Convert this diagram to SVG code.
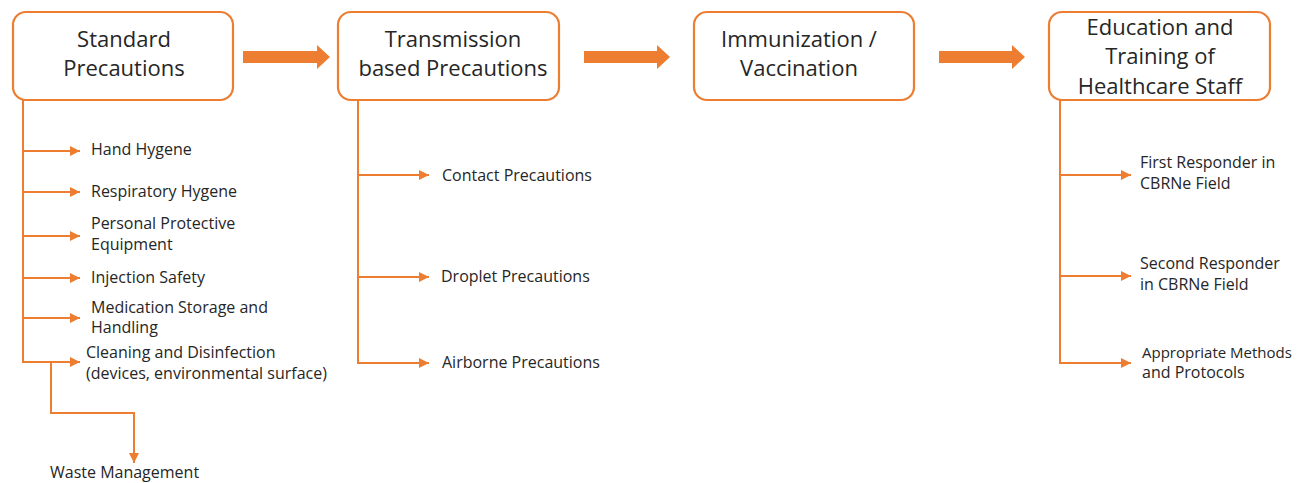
<svg xmlns="http://www.w3.org/2000/svg" width="1299" height="483" viewBox="0 0 1299 483">
  <style>
    .box { fill: #ffffff; stroke: #ED7D31; stroke-width: 2.2; }
    .head { font-family: "Open Sans", "Liberation Sans", Arial, sans-serif; font-size: 22px; fill: #262626; text-anchor: middle; }
    .item { font-family: "Open Sans", "Liberation Sans", Arial, sans-serif; font-size: 16px; fill: #262626; }
    .item.tight { font-size: 15px; }
    .link { fill: none; stroke: #ED7D31; stroke-width: 2; }
    .flow { fill: #ED7D31; }
  </style>
  <defs>
    <marker id="tip" viewBox="0 0 10 10" refX="10" refY="5" markerWidth="5" markerHeight="5" markerUnits="strokeWidth" orient="auto">
      <path d="M0,0 L10,5 L0,10 Z" fill="#ED7D31"/>
    </marker>
  </defs>

  <rect width="1299" height="483" fill="#ffffff"/>

  <!-- main stage boxes -->
  <g id="standard-precautions">
    <rect class="box" x="13" y="12" width="220" height="88" rx="13"/>
    <text class="head" x="124" y="47">Standard</text>
    <text class="head" x="124" y="76">Precautions</text>
  </g>
  <g id="transmission-precautions">
    <rect class="box" x="338" y="12" width="221" height="88" rx="13"/>
    <text class="head" x="453" y="47">Transmission</text>
    <text class="head" x="453" y="76">based Precautions</text>
  </g>
  <g id="immunization">
    <rect class="box" x="694" y="12" width="220" height="88" rx="13"/>
    <text class="head" x="799" y="47">Immunization /</text>
    <text class="head" x="799" y="76">Vaccination</text>
  </g>
  <g id="education-training">
    <rect class="box" x="1049" y="12" width="221" height="88" rx="13"/>
    <text class="head" x="1160" y="35">Education and</text>
    <text class="head" x="1160" y="64">Training of</text>
    <text class="head" x="1160" y="94">Healthcare Staff</text>
  </g>

  <!-- item labels -->
  <g id="standard-items">
    <text class="item" x="91" y="155">Hand Hygene</text>
    <text class="item" x="91" y="197">Respiratory Hygene</text>
    <text class="item" x="91" y="229">Personal Protective</text>
    <text class="item" x="91" y="250">Equipment</text>
    <text class="item" x="91" y="283">Injection Safety</text>
    <text class="item" x="91" y="313">Medication Storage and</text>
    <text class="item" x="91" y="333">Handling</text>
    <text class="item" x="86" y="358">Cleaning and Disinfection</text>
    <text class="item" x="86" y="379">(devices, environmental surface)</text>
    <text class="item" x="50" y="478">Waste Management</text>
  </g>
  <g id="transmission-items">
    <text class="item" x="442" y="181">Contact Precautions</text>
    <text class="item" x="441" y="282">Droplet Precautions</text>
    <text class="item" x="442" y="368">Airborne Precautions</text>
  </g>
  <g id="education-items">
    <text class="item" x="1140" y="168">First Responder in</text>
    <text class="item" x="1140" y="189">CBRNe Field</text>
    <text class="item" x="1140" y="269">Second Responder</text>
    <text class="item" x="1140" y="290">in CBRNe Field</text>
    <text class="item tight" x="1142" y="358">Appropriate Methods</text>
    <text class="item" x="1142" y="378">and Protocols</text>
  </g>

  <!-- connectors -->
  <g id="connectors">
    <!-- block arrows between stages -->
    <path class="flow" d="M243,51 H317 V45 L330,57 L317,69 V63 H243 Z"/>
    <path class="flow" d="M584,51 H657 V45 L670,57 L657,69 V63 H584 Z"/>
    <path class="flow" d="M939,51 H1012 V45 L1025,57 L1012,69 V63 H939 Z"/>

    <!-- standard precautions branches -->
    <path class="link" d="M23,100 V362"/>
    <path class="link" d="M23,151 H80" marker-end="url(#tip)"/>
    <path class="link" d="M23,192 H80" marker-end="url(#tip)"/>
    <path class="link" d="M23,236 H80" marker-end="url(#tip)"/>
    <path class="link" d="M23,278 H80" marker-end="url(#tip)"/>
    <path class="link" d="M23,318 H80" marker-end="url(#tip)"/>
    <path class="link" d="M22,362 H80" marker-end="url(#tip)"/>
    <path class="link" d="M51,362 V413 H134 V463" marker-end="url(#tip)"/>

    <!-- transmission based branches -->
    <path class="link" d="M358,100 V363"/>
    <path class="link" d="M358,175 H429" marker-end="url(#tip)"/>
    <path class="link" d="M358,277 H429" marker-end="url(#tip)"/>
    <path class="link" d="M357,363 H429" marker-end="url(#tip)"/>

    <!-- education branches -->
    <path class="link" d="M1060,100 V363"/>
    <path class="link" d="M1060,175 H1131" marker-end="url(#tip)"/>
    <path class="link" d="M1060,276 H1131" marker-end="url(#tip)"/>
    <path class="link" d="M1059,363 H1131" marker-end="url(#tip)"/>
  </g>
</svg>
